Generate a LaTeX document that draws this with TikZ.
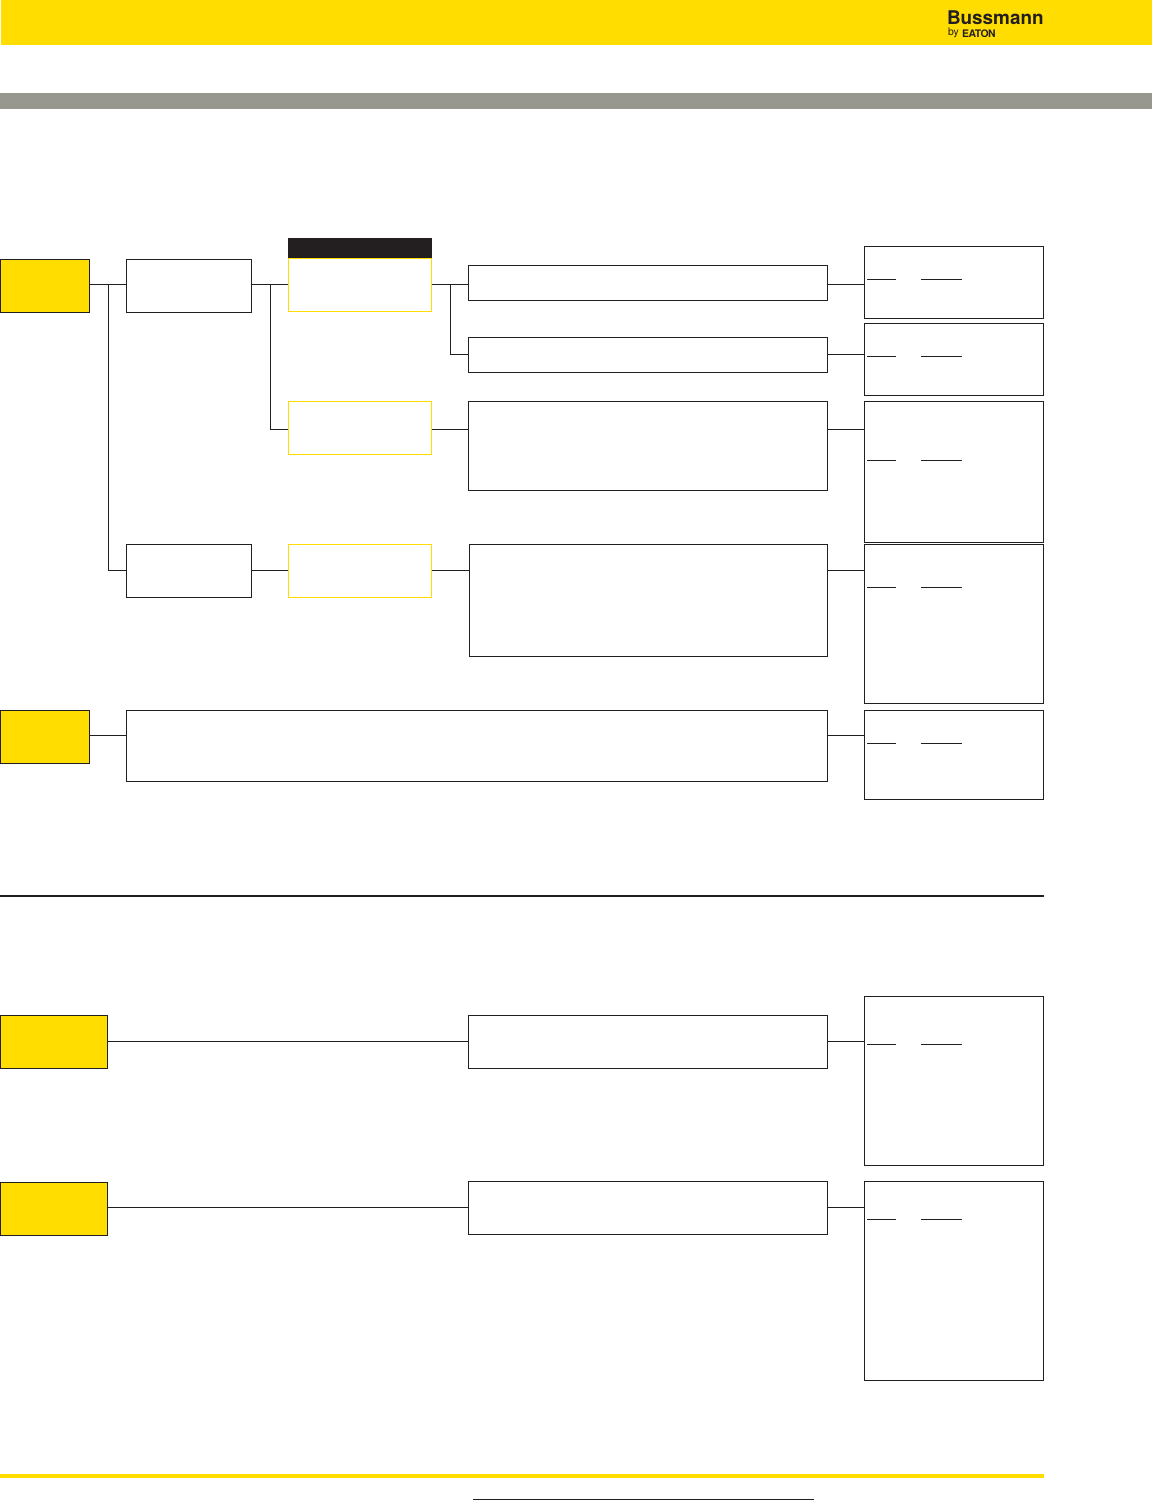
\documentclass[tikz,border=0pt]{standalone}
\usepackage{fontspec}
\setmainfont{TeX Gyre Heros}
\definecolor{eatonyellow}{HTML}{FFDD00}
\definecolor{inkdark}{HTML}{231F20}
\definecolor{bandgray}{HTML}{979790}
\tikzset{
  panel/.style={rectangle,inner sep=0pt,outer sep=0pt,anchor=north west,line width=0.55pt},
  darkbox/.style={panel,draw=inkdark,fill=white},
  yellowbox/.style={panel,draw=eatonyellow,fill=white},
  headbox/.style={panel,draw=inkdark,fill=eatonyellow},
  titlebar/.style={panel,fill=inkdark},
  band/.style={panel,fill=#1},
  wire/.style={draw=inkdark,line width=0.55pt},
  rulemark/.style={draw=inkdark,line width=0.55pt},
  logotext/.style={inner sep=0pt,outer sep=0pt,anchor=base west,text=inkdark}
}
% name, style, x0, y0, x1, y1 in reference pixels
\newcommand{\pbox}[6]{\node[#2,minimum width={(#5-#3)*0.5pt},minimum height={(#6-#4)*0.5pt}] (#1) at (#3,#4) {};}
\begin{document}
\begin{tikzpicture}[x=0.5pt,y=-0.5pt]
\useasboundingbox (0,0) rectangle (1152,1500);
% page furniture
\pbox{topband}{band=eatonyellow}{1}{0}{1152}{45}
\pbox{grayband}{band=bandgray}{0}{93}{1152}{108.7}
\pbox{footband}{band=eatonyellow}{0}{1474}{1044}{1478}
\node[logotext,font=\bfseries\fontsize{9.45}{10}\selectfont] (logoname) at (947,24) {Bussmann};
\node[logotext,font=\fontsize{5.2}{6}\selectfont] (logoby) at (948,35.5) {by};
\node[logotext,font=\bfseries\fontsize{5.2}{6}\selectfont,text width=16.5pt,align=left] (logoeaton) at (962,37) {\addfontfeature{LetterSpace=-4}EATON};
% upper tree boxes
\pbox{headA}{headbox}{0.3}{259.4}{89.6}{312.4}
\pbox{midA}{darkbox}{126.4}{259.4}{251.6}{312.4}
\pbox{midB}{darkbox}{126.4}{544.4}{251.6}{597.4}
\pbox{tabA}{titlebar}{288}{238}{432}{258}
\pbox{yelA}{yellowbox}{288.4}{258.4}{431.6}{311.4}
\pbox{yelB}{yellowbox}{288.4}{401.4}{431.6}{454.4}
\pbox{yelC}{yellowbox}{288.4}{544.4}{431.6}{597.4}
\pbox{textA}{darkbox}{468.4}{265.4}{827.6}{300.4}
\pbox{textB}{darkbox}{468.4}{337.4}{827.6}{372.4}
\pbox{textC}{darkbox}{468.4}{401.4}{827.6}{490.4}
\pbox{textD}{darkbox}{469.4}{544.4}{827.6}{656.4}
\pbox{headB}{headbox}{0.3}{710.4}{89.6}{763.4}
\pbox{textE}{darkbox}{126.4}{710.4}{827.6}{781.4}
\pbox{sideA}{darkbox}{864.4}{246.4}{1043.6}{318.6}
\pbox{sideB}{darkbox}{864.4}{323.4}{1043.6}{395.4}
\pbox{sideC}{darkbox}{864.4}{401.4}{1043.6}{542.4}
\pbox{sideD}{darkbox}{864.4}{544.4}{1043.6}{703.4}
\pbox{sideE}{darkbox}{864.4}{710.4}{1043.6}{799.4}
% lower boxes
\pbox{headC}{headbox}{0.3}{1015.4}{107.6}{1068.4}
\pbox{textF}{darkbox}{468.4}{1015.4}{827.6}{1068.4}
\pbox{sideF}{darkbox}{864.4}{996.4}{1043.6}{1165.4}
\pbox{headD}{headbox}{0.3}{1182.4}{107.6}{1235.4}
\pbox{textG}{darkbox}{468.4}{1181.4}{827.6}{1234.4}
\pbox{sideG}{darkbox}{864.4}{1181.4}{1043.6}{1380.4}
% routing levels
\coordinate (rowA) at (0,284.3);
\coordinate (rowB) at (0,354.3);
\coordinate (rowC) at (0,429.3);
\coordinate (rowD) at (0,570.3);
\coordinate (rowE) at (0,735.3);
\coordinate (rowF) at (0,1041.3);
\coordinate (rowG) at (0,1207.3);
\coordinate (busA) at (108.4,0);
\coordinate (busB) at (270.4,0);
\coordinate (busC) at (450.4,0);
% connectors
\draw[wire] (headA.east |- rowA) -- (midA.west |- rowA);
\draw[wire] (busA |- rowA) -- (busA |- rowD) -- (midB.west |- rowD);
\draw[wire] (midA.east |- rowA) -- (yelA.west |- rowA);
\draw[wire] (busB |- rowA) -- (busB |- rowC) -- (yelB.west |- rowC);
\draw[wire] (yelA.east |- rowA) -- (textA.west |- rowA);
\draw[wire] (busC |- rowA) -- (busC |- rowB) -- (textB.west |- rowB);
\draw[wire] (yelB.east |- rowC) -- (textC.west |- rowC);
\draw[wire] (midB.east |- rowD) -- (yelC.west |- rowD);
\draw[wire] (yelC.east |- rowD) -- (textD.west |- rowD);
\draw[wire] (textA.east |- rowA) -- (sideA.west |- rowA);
\draw[wire] (textB.east |- rowB) -- (sideB.west |- rowB);
\draw[wire] (textC.east |- rowC) -- (sideC.west |- rowC);
\draw[wire] (textD.east |- rowD) -- (sideD.west |- rowD);
\draw[wire] (headB.east |- rowE) -- (textE.west |- rowE);
\draw[wire] (textE.east |- rowE) -- (sideE.west |- rowE);
\draw[wire] (headC.east |- rowF) -- (textF.west |- rowF);
\draw[wire] (textF.east |- rowF) -- (sideF.west |- rowF);
\draw[wire] (headD.east |- rowG) -- (textG.west |- rowG);
\draw[wire] (textG.east |- rowG) -- (sideG.west |- rowG);
% column heading rules inside the right-hand boxes
\foreach \ry in {279.3,356.3,460.3,587.3,743.3,1044.3,1219.3}{
  \draw[rulemark] (867,\ry) -- (896,\ry);
  \draw[rulemark] (921,\ry) -- (962,\ry);
}
% separators
\draw[rulemark,line width=0.7pt] (0,896) -- (1044,896);
\draw[rulemark] (473,1499.4) -- (814,1499.4);
\end{tikzpicture}
\end{document}
